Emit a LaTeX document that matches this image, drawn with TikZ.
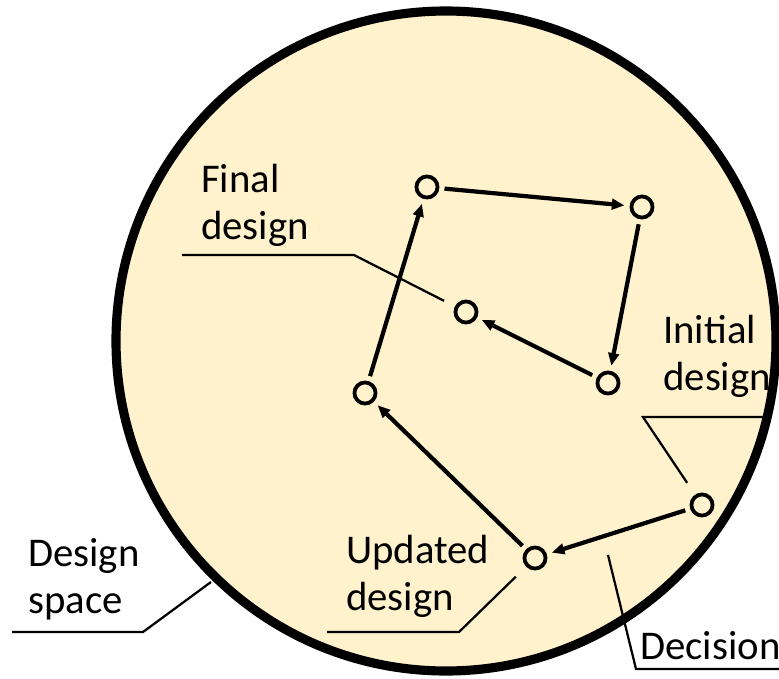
\documentclass[tikz,border=0pt]{standalone}
\usepackage{fontspec}
\setmainfont{Carlito}
\usetikzlibrary{arrows.meta}
\definecolor{spacefill}{HTML}{FFF2CC}

\begin{document}
\begin{tikzpicture}[x=0.025cm,y=-0.025cm,
  pt/.style={draw,circle,line width=2.7pt,minimum size=15pt,inner sep=0pt,outer sep=5pt},
  move/.style={-{Triangle[length=9pt,width=7.5pt]},line width=3pt},
  lead/.style={line width=1.6pt},
  lbl/.style={anchor=base west,align=left,inner sep=0pt,font=\fontsize{29}{33.4}\selectfont}]
\useasboundingbox (0,0) rectangle (779,679);
\draw[line width=6.5pt,fill=spacefill] (446,341) circle[radius=330];
% design points
\node[pt] (A) at (427,187) {};
\node[pt] (B) at (642,207) {};
\node[pt] (C) at (608,383) {};
\node[pt] (D) at (466,312) {};
\node[pt] (E) at (365,393) {};
\node[pt] (F) at (702,505) {};
\node[pt] (G) at (535,558) {};
% search path
\draw[move] (F) -- (G);
\draw[move] (G) -- (E);
\draw[move] (E) -- (A);
\draw[move] (A) -- (B);
\draw[move] (B) -- (C);
\draw[move] (C) -- (D);
% labels (base = last line)
\node[lbl] (finallbl) at (201,239) {Final\\design};
\node[lbl] (initlbl) at (663,390) {Initial\\design};
\node[lbl] (updlbl) at (346,610) {Updated\\design};
\node[lbl] (spacelbl) at (28,613) {Design\\space};
\node[lbl] (decisionlbl) at (640,659) {Decision};
% leaders
\coordinate (finalleft) at (182,255);
\coordinate (finalknee) at (354,255);
\coordinate (initright) at (763,417);
\coordinate (initknee) at (643,417);
\coordinate (updleft) at (327,632);
\coordinate (updknee) at (459,632);
\coordinate (spaceleft) at (12,632);
\coordinate (spaceknee) at (143,632);
\coordinate (spaceedge) at (211,582);
\coordinate (decisiontip) at (608,555);
\coordinate (decisionknee) at (636,669);
\coordinate (decisionright) at (779,669);
\draw[lead,shorten >=5pt] (finalleft) -- (finalknee) -- (D);
\draw[lead,shorten >=6.5pt] (initright) -- (initknee) -- (F);
\draw[lead,shorten >=6.5pt] (updleft) -- (updknee) -- (G);
\draw[lead] (spaceleft) -- (spaceknee) -- (spaceedge);
\draw[lead] (decisiontip) -- (decisionknee) -- (decisionright);
\end{tikzpicture}
\end{document}
